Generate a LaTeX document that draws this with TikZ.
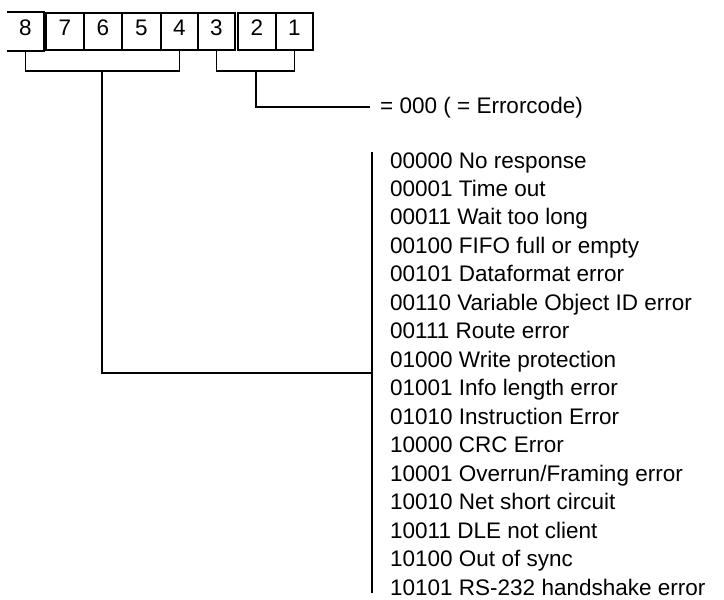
\documentclass[tikz,border=0pt]{standalone}
\usepackage{fontspec}
\setmainfont{Liberation Sans}
\usetikzlibrary{positioning}

\tikzset{
  bitbox/.style={line width=1.8pt, minimum height=37pt, inner sep=0pt,
    text height=16pt, text depth=9pt, font=\fontsize{22.5}{26}\selectfont},
  codetext/.style={anchor=base west, inner sep=0pt, font=\fontsize{22.5}{27}\selectfont},
  wire/.style={line width=1.9pt}
}

\begin{document}
\begin{tikzpicture}[x=1pt, y=-1pt]
  \useasboundingbox (0,0) rectangle (724,600);
  % bit boxes: name/centre/width
  \foreach \b/\cx/\w in {7/65/38, 6/103/38, 5/141.5/39, 4/179.5/37,
                          3/216.5/37, 2/257/38, 1/294.5/37}
    \node [bitbox, draw, minimum width=\w pt] (b\b) at (\cx, 31.5) {\b};
  \node [bitbox, minimum width=35pt] (b8) at (25.5, 31.5) {8};
  \draw [bitbox] (b8.north west) -- (b8.north east) -- (b8.south east) -- (b8.south west);

  % brackets
  \draw [wire] (b8.south) -- ++(0,20) -| (b4.south);
  \draw [wire] (b3.south) -- ++(0,20) -| (b1.south);
  \coordinate (lstem) at (102,70);
  \coordinate (rstem) at (256,70);
  \coordinate (rbend) at (256,107);
  \coordinate (lbend) at (102,373);
  \coordinate (listtop) at (372,152);
  \coordinate (listbot) at (372,593);

  % error code text
  \node [codetext] (ecode) at (380,113) {= 000 ( = Errorcode)};
  \draw [wire] (rstem) -- (rbend) -- (370,107);

  % list of codes
  \foreach \txt [count=\i] in {00000 No response, 00001 Time out, 00011 Wait too long,
      00100 FIFO full or empty, 00101 Dataformat error, 00110 Variable Object ID error,
      00111 Route error, 01000 Write protection, 01001 Info length error,
      01010 Instruction Error, 10000 CRC Error, 10001 Overrun/Framing error,
      10010 Net short circuit, 10011 DLE not client, 10100 Out of sync,
      10101 RS-232 handshake error}
    \node [codetext] (e\i) at (390, {168+28.47*(\i-1)}) {\txt};

  \draw [wire] (listtop) -- (listbot);
  \draw [wire] (lstem) -- (lbend) -- (listtop |- lbend);
\end{tikzpicture}
\end{document}
